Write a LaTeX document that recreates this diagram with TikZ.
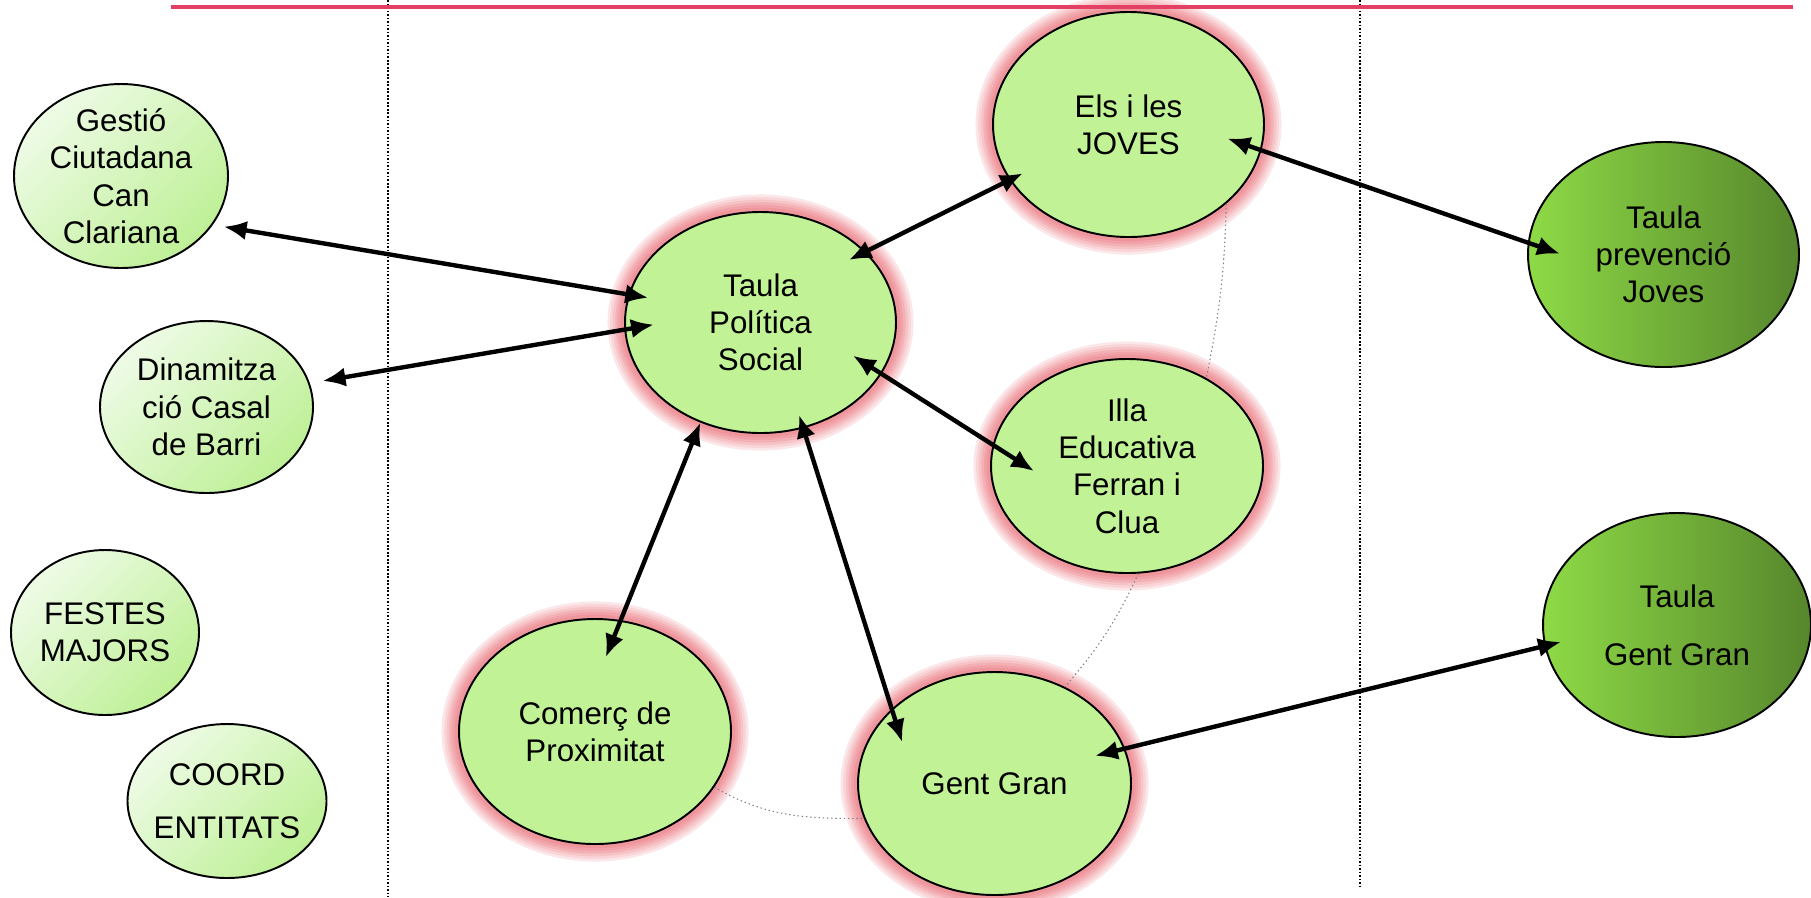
\documentclass[tikz,border=0pt]{standalone}
\usepackage{fontspec}
\setmainfont{Liberation Sans}
\usetikzlibrary{shapes.geometric, arrows.meta}

\definecolor{hubgreen}{RGB}{193,242,150}
\definecolor{palelight}{RGB}{238,251,230}
\definecolor{paledeep}{RGB}{190,240,150}
\definecolor{sidelight}{RGB}{142,218,70}
\definecolor{sidedark}{RGB}{86,134,44}
\definecolor{glowpink}{RGB}{232,105,115}
\definecolor{rulered}{RGB}{228,64,100}

\tikzstyle{blob} = [ellipse, draw, line width=0.55pt, inner sep=-8pt, align=center, font=\fontsize{8.9}{10.6}\selectfont]
\tikzstyle{pale} = [blob, top color=palelight, bottom color=paledeep, shading angle=45]
\tikzstyle{hub} = [blob, fill=hubgreen, preaction={draw=glowpink!16, line width=10pt}, preaction={draw=glowpink!28, line width=8.5pt}, preaction={draw=glowpink!40, line width=7pt}, preaction={draw=glowpink!52, line width=5.5pt}, preaction={draw=glowpink!62, line width=4pt}, preaction={draw=glowpink!70, line width=2.5pt}]
\tikzstyle{side} = [blob, left color=sidelight, right color=sidedark]
\tikzstyle{link} = [<->, >={Latex[length=6.5pt,width=5.5pt]}, line width=1.25pt]
\tikzstyle{faint} = [gray, line width=0.3pt, dash pattern=on 0.4pt off 0.8pt]
\tikzstyle{fence} = [line width=0.5pt, dash pattern=on 0.5pt off 0.5pt]

\begin{document}
\begin{tikzpicture}
\useasboundingbox (0,0) rectangle (18.11,-8.97);
\draw[fence] (3.88,0) -- (3.88,-8.97);
\draw[fence] (13.60,0) -- (13.60,-8.88);

% left column
\node[pale, minimum width=2.14cm, minimum height=1.84cm] (gestio) at (1.21,-1.76) {Gestió\\Ciutadana\\Can\\Clariana};
\node[pale, minimum width=2.13cm, minimum height=1.72cm] (dinam) at (2.065,-4.07) {Dinamitza\\ció Casal\\de Barri};
\node[pale, minimum width=1.88cm, minimum height=1.65cm] (festes) at (1.05,-6.325) {FESTES\\MAJORS};
\node[pale, minimum width=1.99cm, minimum height=1.54cm] (coord) at (2.27,-8.01) {COORD\\[4.5pt]ENTITATS};

% middle
\node[hub, minimum width=2.71cm, minimum height=2.21cm] (taula) at (7.605,-3.225) {Taula\\Política\\Social};
\node[hub, minimum width=2.71cm, minimum height=2.25cm] (joves) at (11.285,-1.245) {Els i les\\JOVES};
\node[hub, minimum width=2.72cm, minimum height=2.14cm] (illa) at (11.27,-4.66) {Illa\\Educativa\\Ferran i\\Clua};
\node[hub, minimum width=2.72cm, minimum height=2.25cm] (comerc) at (5.95,-7.315) {Comerç de\\Proximitat};
\node[hub, minimum width=2.73cm, minimum height=2.23cm] (gg) at (9.945,-7.835) {Gent Gran};

% right column
\node[side, minimum width=2.71cm, minimum height=2.25cm] (tpj) at (16.635,-2.545) {Taula\\prevenció\\Joves};
\node[side, minimum width=2.68cm, minimum height=2.24cm] (tgg) at (16.77,-6.25) {Taula\\[6pt]Gent Gran};

\draw[faint] (joves.-39) to[bend left=5] (illa.48);
\draw[faint] (illa.-84) to[bend left=8] (gg.54);
\draw[faint] (comerc.-25) to[out=-30, in=180] (gg.195);

\draw[link, shorten <=0.11cm, shorten >=-0.20cm] (gestio.-28) -- (taula.168);
\draw[link, shorten <=0.13cm, shorten >=-0.30cm] (dinam.13) -- (taula.183);
\draw[link, shorten <=-0.19cm, shorten >=-0.15cm] (taula.34) -- (joves.205);
\draw[link, shorten <=-0.36cm, shorten >=-0.34cm] (joves.-11) -- (tpj.175);
\draw[link, shorten <=-0.34cm, shorten >=-0.49cm] (taula.-23) -- (illa.171);
\draw[link, shorten >=-0.40cm] (taula.-121) -- (comerc.77);
\draw[link, shorten <=-0.14cm, shorten >=-0.35cm] (taula.-68) -- (gg.144);
\draw[link, shorten <=-0.31cm, shorten >=-0.17cm] (gg.15) -- (tgg.189);

\draw[rulered, line width=1.1pt] (1.71,-0.07) -- (17.93,-0.07);
\end{tikzpicture}
\end{document}
